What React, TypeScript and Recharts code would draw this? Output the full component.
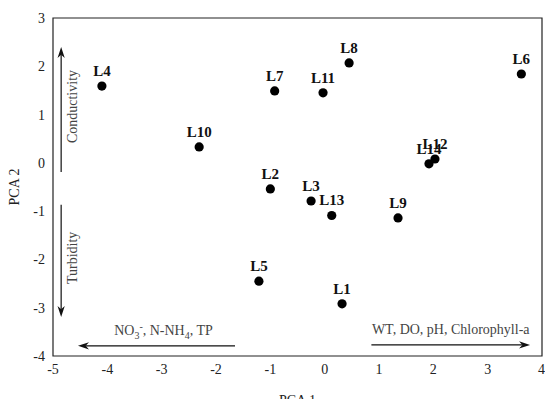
import React from 'react';
import { ScatterChart, Scatter, XAxis, YAxis, ReferenceArea, ReferenceLine } from 'recharts';

// sampling sites and their scores on the first two principal components
const sites = ['L1', 'L2', 'L3', 'L4', 'L5', 'L6', 'L7', 'L8', 'L9', 'L10', 'L11', 'L12', 'L13', 'L14'];
const pca1 = [0.32, -1.0, -0.25, -4.1, -1.21, 3.62, -0.92, 0.45, 1.35, -2.31, -0.03, 2.03, 0.13, 1.92];
const pca2 = [-2.92, -0.54, -0.79, 1.59, -2.45, 1.84, 1.49, 2.07, -1.14, 0.33, 1.45, 0.08, -1.09, -0.02];

const xTicks = [-5, -4, -3, -2, -1, 0, 1, 2, 3, 4];
const yTicks = [-4, -3, -2, -1, 0, 1, 2, 3];

const data = sites.map((name, i) => ({ name, x: pca1[i], y: pca2[i] }));

const FONT = 'Liberation Serif, Tinos, serif';
const INK = '#222';

const SitePoint = (props: any) => {
    const { cx, cy, payload } = props;
    return (
        <g>
            <circle cx={cx} cy={cy} r={4.6} fill="#000" />
            <text x={cx} y={cy - 10} textAnchor="middle" style={{ fontFamily: FONT }} fontWeight="bold" fontSize={15} fill="#111">
                {payload.name}
            </text>
        </g>
    );
};

// line with a stealth style head at (x2, y2) and a caption beside it
const Arrow = (props: any) => {
    const { x1, y1, x2, y2, caption, vertical } = props;
    const ang = Math.atan2(y2 - y1, x2 - x1);
    const len = 11;
    const w = 3.6;
    const bx = x2 - len * Math.cos(ang);
    const by = y2 - len * Math.sin(ang);
    const nx = -Math.sin(ang) * w;
    const ny = Math.cos(ang) * w;
    const mx = x2 - len * 0.7 * Math.cos(ang);
    const my = y2 - len * 0.7 * Math.sin(ang);
    const head = `${x2},${y2} ${bx + nx},${by + ny} ${mx},${my} ${bx - nx},${by - ny}`;
    const midX = (x1 + x2) / 2;
    const midY = (y1 + y2) / 2;
    return (
        <g>
            <line x1={x1} y1={y1} x2={mx} y2={my} stroke="#111" strokeWidth={1.2} />
            <polygon points={head} fill="#111" />
            {vertical ? (
                <text
                    x={x1 + 16}
                    y={midY - 3}
                    transform={`rotate(-90 ${x1 + 16} ${midY - 3})`}
                    textAnchor="middle"
                    style={{ fontFamily: FONT }}
                    fontSize={14}
                    fill="#444"
                >
                    {caption}
                </text>
            ) : (
                <text x={midX + (props.shift || 0)} y={y1 - 11} textAnchor="middle" style={{ fontFamily: FONT }} fontSize={14} fill="#444">
                    {caption}
                </text>
            )}
        </g>
    );
};

const nutrients = (
    <>
        NO<tspan fontSize={10} dy={4}>3</tspan>
        <tspan fontSize={10} dy={-9}>-</tspan>
        <tspan dy={5}>, N-NH</tspan>
        <tspan fontSize={10} dy={4}>4</tspan>
        <tspan dy={-4}>, TP</tspan>
    </>
);

export default function App() {
    return (
        <div style={{ position: 'absolute', left: 0, top: 0, fontFamily: FONT }}>
            <ScatterChart width={545} height={399} margin={{ top: 18, right: 3, left: 0, bottom: 0 }} style={{ fontFamily: FONT }}>
                <XAxis
                    type="number"
                    dataKey="x"
                    domain={[-5, 4]}
                    ticks={xTicks}
                    allowDataOverflow
                    tickLine={false}
                    axisLine={false}
                    height={43}
                    tick={{ fontFamily: FONT, fontSize: 14, fill: INK }}
                    label={{ value: 'PCA 1', position: 'insideBottom', offset: -6, fontFamily: FONT, fontSize: 14, fill: INK }}
                />
                <YAxis
                    type="number"
                    dataKey="y"
                    domain={[-4, 3]}
                    ticks={yTicks}
                    allowDataOverflow
                    tickLine={false}
                    axisLine={false}
                    width={53}
                    tick={{ fontFamily: FONT, fontSize: 14, fill: INK }}
                    label={(p: any) => {
                        const vb = p.viewBox;
                        const cx = vb.x + 14;
                        const cy = vb.y + vb.height / 2;
                        return (
                            <text x={cx} y={cy} transform={`rotate(-90 ${cx} ${cy})`} textAnchor="middle" dominantBaseline="central" style={{ fontFamily: FONT }} fontSize={14} fill={INK}>
                                PCA 2
                            </text>
                        );
                    }}
                />
                <ReferenceArea x1={-5} x2={4} y1={-4} y2={3} fill="none" stroke="#222" strokeWidth={1.2} fillOpacity={0} />
                <ReferenceLine
                    segment={[{ x: -4.85, y: -0.19 }, { x: -4.85, y: 2.4 }]}
                    ifOverflow="visible"
                    shape={(p: any) => <Arrow {...p} vertical caption="Conductivity" />}
                />
                <ReferenceLine
                    segment={[{ x: -4.85, y: -0.87 }, { x: -4.85, y: -3.19 }]}
                    ifOverflow="visible"
                    shape={(p: any) => <Arrow {...p} vertical caption="Turbidity" />}
                />
                <ReferenceLine
                    segment={[{ x: -1.65, y: -3.79 }, { x: -4.54, y: -3.79 }]}
                    ifOverflow="visible"
                    shape={(p: any) => <Arrow {...p} shift={7} caption={nutrients} />}
                />
                <ReferenceLine
                    segment={[{ x: 0.86, y: -3.77 }, { x: 3.78, y: -3.77 }]}
                    ifOverflow="visible"
                    shape={(p: any) => <Arrow {...p} caption="WT, DO, pH, Chlorophyll-a" />}
                />
                <Scatter data={data} isAnimationActive={false} shape={SitePoint} />
            </ScatterChart>
        </div>
    );
}
